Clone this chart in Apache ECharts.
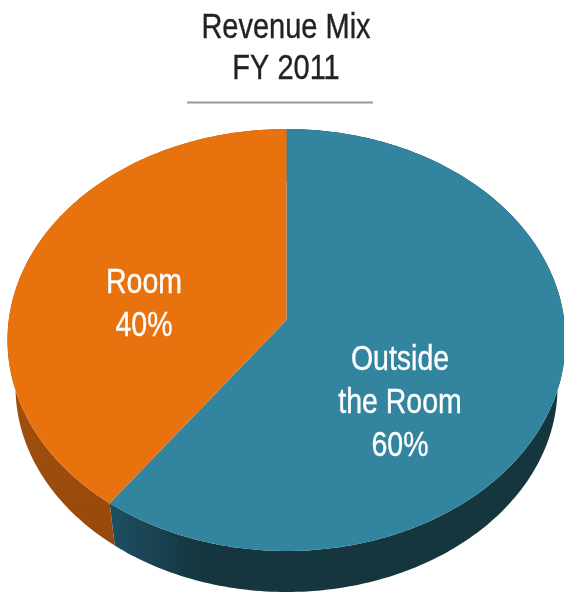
<!DOCTYPE html>
<html><head><meta charset="utf-8">
<style>html,body{margin:0;padding:0;background:#fff}#c{width:564px;height:593px}</style>
<script src="https://cdn.jsdelivr.net/npm/echarts@6/dist/echarts.min.js"></script>
</head><body><div id="c"></div>
<script>
const categories = ['Outside\nthe Room', 'Room'];
const values = [60, 40];
const titleLines = 'Revenue Mix\nFY 2011';

const topColors = ['#33849F', '#E8720E'];
const sideColors = [['#1D4F63', '#15363F'], ['#B3590B', '#97490C']];
const labelPos = [[400, 403.5], [144, 305]];

const cx = 286.5;
const topE = {cy: 340, rx: 279, ry: 211};
const lowE = {cy: 387, rx: 271, ry: 205};
const k = -0.095;           // foreshortening of the disc, moves the apex above the ellipse centre
const total = values.reduce((a, b) => a + b, 0);

function project(e, turn, r) {
  const a = turn * 2 * Math.PI;
  const u = r * Math.sin(a), v = -r * Math.cos(a);
  const d = 1 + k * v;
  return [cx + e.rx * u * Math.sqrt(1 - k * k) / d, e.cy + e.ry * (v + k) / d];
}
function arc(e, t0, t1) {
  const pts = [], n = Math.max(8, Math.ceil((t1 - t0) * 360));
  for (let i = 0; i <= n; i++) pts.push(project(e, t0 + (t1 - t0) * i / n, 1));
  return pts;
}
function span(i) {
  let s = 0;
  for (let j = 0; j < i; j++) s += values[j];
  return [s / total, (s + values[i]) / total];
}

const sideSeries = {
  type: 'custom', coordinateSystem: 'none', silent: true, z: 1, animation: false,
  data: values.map((v, i) => ({name: categories[i], value: v})),
  renderItem(params) {
    const i = params.dataIndex, [t0, t1] = span(i);
    const points = arc(lowE, t0, t1).concat(arc(topE, t0, t1).reverse());
    return {type: 'polygon', shape: {points}, style: {
      fill: new echarts.graphic.LinearGradient(0, 0, i === 0 ? 1 : 0, i === 0 ? 0 : 1, [
        {offset: 0, color: sideColors[i][0]},
        {offset: i === 0 ? 0.2 : 1, color: sideColors[i][1]},
        {offset: 1, color: sideColors[i][1]}
      ]) }};
  }
};

const topSeries = {
  type: 'custom', coordinateSystem: 'none', silent: true, z: 2, animation: false,
  data: values.map((v, i) => ({name: categories[i], value: v})),
  renderItem(params) {
    const i = params.dataIndex, [t0, t1] = span(i);
    const points = [project(topE, 0, 0)].concat(arc(topE, t0, t1));
    return {type: 'group', children: [
      {type: 'polygon', shape: {points}, style: {fill: topColors[i]}},
      {type: 'text', x: labelPos[i][0], y: labelPos[i][1], scaleY: 1.2, z2: 10, style: {
        text: categories[i] + '\n' + Math.round(values[i] / total * 100) + '%',
        fill: '#fff', stroke: '#fff', lineWidth: 0.3,
        font: '28.5px "Liberation Sans"', lineHeight: 35.5,
        align: 'center', verticalAlign: 'middle'
      }}
    ]};
  }
};

const chart = echarts.init(document.getElementById('c'), null, {renderer: 'canvas'});
chart.setOption({
  backgroundColor: '#fff',
  animation: false,
  series: [sideSeries, topSeries],
  graphic: [
    {type: 'text', x: 286, y: 49, scaleY: 1.2, style: {
      text: titleLines, fill: '#222', stroke: '#222', lineWidth: 0.3,
      font: '29px "Liberation Sans"', lineHeight: 34.2,
      align: 'center', verticalAlign: 'middle'}},
    {type: 'line', shape: {x1: 187, y1: 102.5, x2: 373, y2: 102.5},
      style: {stroke: '#999', lineWidth: 2}}
  ]
});
</script></body></html>
